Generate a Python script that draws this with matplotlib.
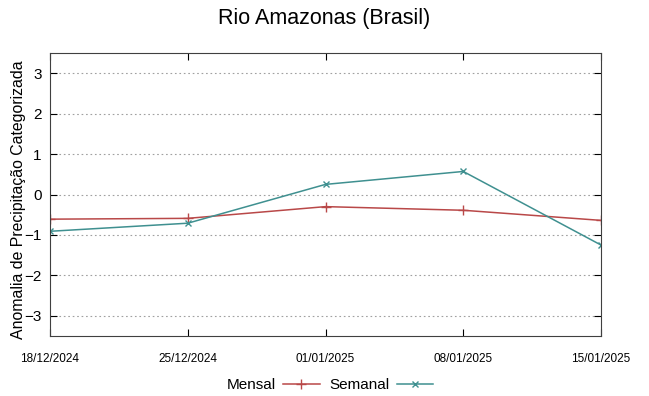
import numpy as np
import matplotlib.pyplot as plt

# valores
datas = ['18/12/2024', '25/12/2024', '01/01/2025', '08/01/2025', '15/01/2025']
mensal = [-0.61, -0.59, -0.30, -0.39, -0.64]
semanal = [-0.91, -0.71, 0.25, 0.57, -1.25]

plt.rcParams['font.family'] = ['Liberation Sans', 'DejaVu Sans']

fig = plt.figure(figsize=(6.49, 3.96), dpi=100)
ax = fig.add_axes([50 / 649, 1 - 336 / 396, 551 / 649, 283 / 396])

x = np.arange(len(datas))
ax.plot(x, mensal, color='#b94848', lw=1.1, marker='+', ms=7, mew=1.0, label='Mensal')
ax.plot(x, semanal, color='#3f9090', lw=1.1, marker='x', ms=5, mew=1.0, label='Semanal')

ax.set_xlim(0, len(datas) - 1)
ax.set_ylim(-3.5, 3.5)
ax.set_yticks([-3, -2, -1, 0, 1, 2, 3])
ax.set_xticks(x)
ax.set_xticklabels(datas, fontsize=8.5)
ax.tick_params(axis='y', labelsize=11, direction='in', right=True, length=5, pad=6)
ax.tick_params(axis='x', direction='in', top=True, length=5, pad=12)
ax.yaxis.grid(True, color='#a0a0a0', ls=(0, (1.5, 2.5)), lw=0.8)
for s in ax.spines.values():
    s.set_color('#404040')

ax.set_ylabel('Anomalia de Precipitação Categorizada', fontsize=11.4)
ax.yaxis.set_label_coords(-0.044, 0.48)
fig.suptitle('Rio Amazonas (Brasil)', fontsize=15.5, y=0.98)

ax.legend(loc='upper center', bbox_to_anchor=(0.508, -0.1), ncol=2, frameon=False,
          fontsize=11, handlelength=2.4, markerfirst=False, columnspacing=0.6,
          handletextpad=0.5)

fig.savefig('out.png', dpi=100)
